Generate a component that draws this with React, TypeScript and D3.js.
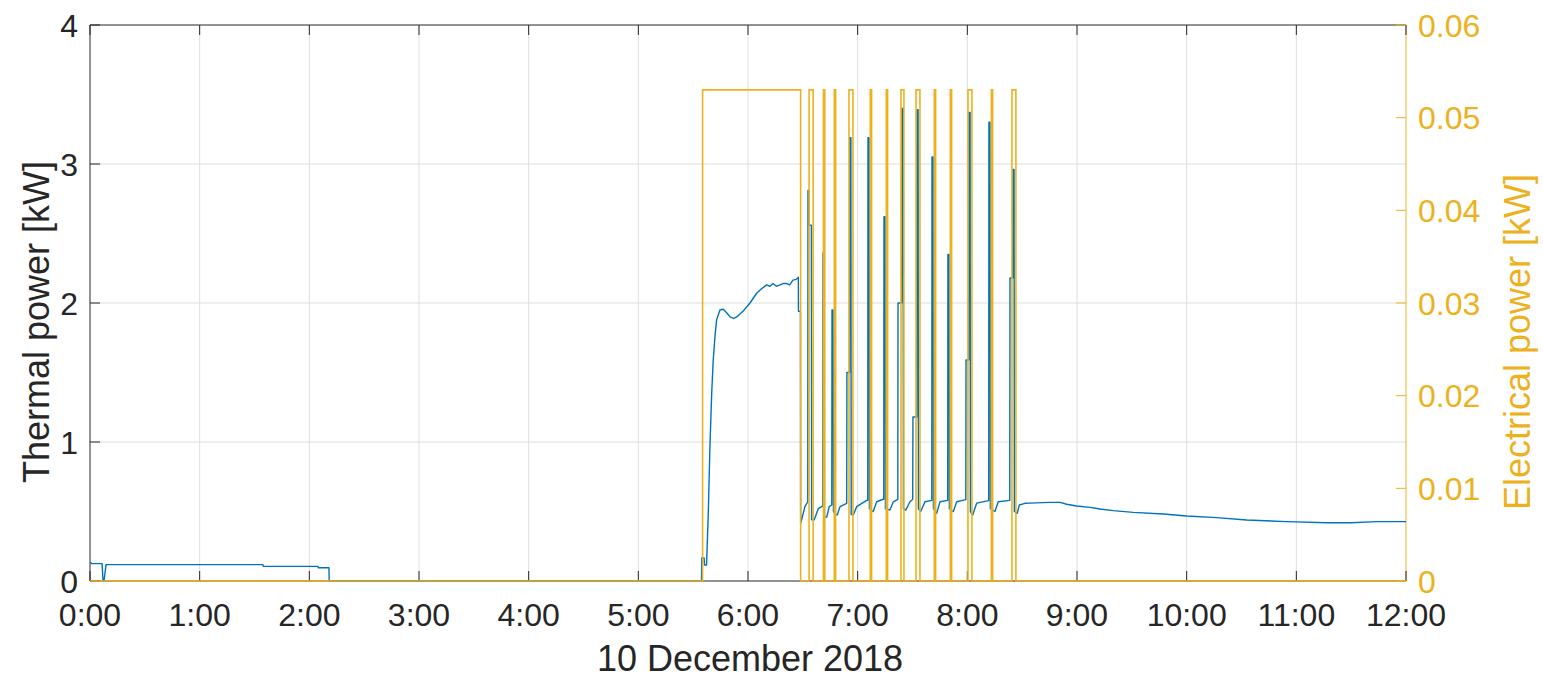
import React from 'react';
import * as d3 from 'd3';

// ---------- DATA ----------
const hourTicks = [0, 1, 2, 3, 4, 5, 6, 7, 8, 9, 10, 11, 12];
const hourLabels = ['0:00', '1:00', '2:00', '3:00', '4:00', '5:00', '6:00', '7:00', '8:00', '9:00', '10:00', '11:00', '12:00'];
const thermalTicks = [0, 1, 2, 3, 4];
const electricalTicks = [0, 0.01, 0.02, 0.03, 0.04, 0.05, 0.06];
const electricalTickLabels = ['0', '0.01', '0.02', '0.03', '0.04', '0.05', '0.06'];
const xLabel = '10 December 2018';
const leftLabel = 'Thermal power [kW]';
const rightLabel = 'Electrical power [kW]';

// Electrical pump pulses (hours since 0:00) and level (kW)
const pulseOn = [5.586, 6.557, 6.688, 6.787, 6.921, 7.115, 7.261, 7.395, 7.532, 7.699, 7.845, 8.006, 8.219, 8.407];
const pulseOff = [6.480, 6.594, 6.700, 6.799, 6.957, 7.127, 7.273, 7.422, 7.568, 7.711, 7.857, 8.042, 8.231, 8.443];
const pulseLevel = 0.053;

// Thermal power samples [hour, kW]
const thermalPoints: [number, number][] = [
  [0, 0.135], [0.018, 0.125], [0.110, 0.125], [0.119, 0], [0.128, 0], [0.146, 0.118],
  [1.577, 0.118], [1.580, 0.105], [2.079, 0.105], [2.082, 0.095], [2.179, 0.095], [2.181, 0],
  [5.576, 0], [5.578, 0.165], [5.600, 0.165], [5.603, 0.115], [5.622, 0.115], [5.638, 0.49],
  [5.653, 0.97], [5.669, 1.35], [5.683, 1.59], [5.699, 1.76], [5.714, 1.88], [5.744, 1.95],
  [5.775, 1.955], [5.805, 1.93], [5.836, 1.90], [5.870, 1.89], [5.897, 1.90], [5.954, 1.94],
  [6.018, 2.0], [6.079, 2.07], [6.120, 2.10], [6.170, 2.13], [6.200, 2.12], [6.228, 2.14],
  [6.260, 2.12], [6.292, 2.13], [6.320, 2.14], [6.353, 2.14], [6.380, 2.13], [6.410, 2.165],
  [6.440, 2.17], [6.459, 2.185], [6.460, 1.94], [6.478, 1.94], [6.480, 0.415],
  [6.489, 0.44], [6.519, 0.535], [6.545, 0.57],
  [6.547, 2.81], [6.556, 2.81], [6.558, 2.56], [6.578, 2.56], [6.580, 0.44],
  [6.604, 0.44], [6.641, 0.52], [6.672, 0.535], [6.682, 0.54],
  [6.684, 2.36], [6.694, 2.36], [6.697, 0.46],
  [6.718, 0.46], [6.741, 0.535], [6.764, 0.547],
  [6.766, 1.95], [6.776, 1.95], [6.779, 0.50],
  [6.800, 0.48], [6.814, 0.475], [6.839, 0.535], [6.900, 0.559],
  [6.902, 1.50], [6.926, 1.50], [6.928, 3.19], [6.938, 3.19], [6.941, 0.48],
  [6.960, 0.475], [6.991, 0.535], [7.082, 0.58],
  [7.092, 0.58], [7.094, 3.19], [7.104, 3.19], [7.107, 0.52],
  [7.142, 0.50], [7.173, 0.57], [7.233, 0.588],
  [7.238, 0.588], [7.240, 2.62], [7.250, 2.62], [7.253, 0.52],
  [7.294, 0.51], [7.325, 0.57], [7.366, 0.588],
  [7.368, 2.0], [7.402, 2.0], [7.404, 3.40], [7.414, 3.40], [7.417, 0.52],
  [7.438, 0.51], [7.477, 0.57], [7.502, 0.588],
  [7.504, 1.18], [7.539, 1.18], [7.541, 3.39], [7.551, 3.39], [7.554, 0.52],
  [7.574, 0.50], [7.614, 0.57], [7.676, 0.58],
  [7.678, 3.05], [7.688, 3.05], [7.691, 0.52],
  [7.720, 0.487], [7.751, 0.57], [7.821, 0.58],
  [7.823, 2.35], [7.833, 2.35], [7.836, 0.52],
  [7.872, 0.50], [7.903, 0.57], [7.986, 0.585],
  [7.988, 1.59], [8.013, 1.59], [8.015, 3.37], [8.025, 3.37], [8.028, 0.50],
  [8.049, 0.475], [8.085, 0.56], [8.195, 0.578],
  [8.197, 3.30], [8.207, 3.30], [8.210, 0.52],
  [8.252, 0.50], [8.282, 0.57], [8.387, 0.58],
  [8.389, 2.18], [8.414, 2.18], [8.416, 2.96], [8.426, 2.96], [8.429, 0.50],
  [8.455, 0.487], [8.474, 0.547], [8.526, 0.559], [8.571, 0.56], [8.753, 0.566],
  [8.845, 0.566], [8.906, 0.552], [8.997, 0.54], [9.118, 0.530], [9.209, 0.518],
  [9.331, 0.506], [9.513, 0.494], [9.787, 0.482], [10.0, 0.468], [10.273, 0.456],
  [10.547, 0.439], [10.912, 0.427], [11.276, 0.419], [11.500, 0.419], [11.732, 0.427], [12.0, 0.427],
];

// ---------- CHART ----------
const W = 1543;
const H = 678;
const left = 90;
const right = 1406;
const top = 25;
const bottom = 581;

const BLUE = '#0072BD';
const GOLD = '#EDB120';
const INK = '#262626';
const GRID = '#dedede';
const FONT = '"Liberation Sans", Arial, Helvetica, sans-serif';

export default function App() {
  const x = d3.scaleLinear().domain([0, 12]).range([left, right]);
  const yL = d3.scaleLinear().domain([0, 4]).range([bottom, top]);
  const yR = d3.scaleLinear().domain([0, 0.06]).range([bottom, top]);

  const elecPoints: [number, number][] = [[0, 0]];
  pulseOn.forEach((on, i) => {
    elecPoints.push([on, 0], [on, pulseLevel], [pulseOff[i], pulseLevel], [pulseOff[i], 0]);
  });
  elecPoints.push([12, 0]);

  const thermalLine = d3.line<[number, number]>().x((d) => x(d[0])).y((d) => yL(d[1]))(thermalPoints) || '';
  const elecLine = d3.line<[number, number]>().x((d) => x(d[0])).y((d) => yR(d[1]))(elecPoints) || '';

  const tickLen = 10;
  const fs = 32;

  return (
    <svg width={W} height={H} style={{ position: 'absolute', left: 0, top: 0, background: '#fff' }} fontFamily={FONT}>
      <defs>
        <clipPath id="plotclip">
          <rect x={left} y={top - 2} width={right - left + 2} height={bottom - top + 4} />
        </clipPath>
      </defs>
      <rect x={0} y={0} width={W} height={H} fill="#fff" />
      {/* grid */}
      {hourTicks.slice(1, -1).map((h) => (
        <line key={'gx' + h} x1={x(h)} x2={x(h)} y1={top} y2={bottom} stroke={GRID} strokeWidth={1} />
      ))}
      {thermalTicks.slice(1, -1).map((v) => (
        <line key={'gy' + v} x1={left} x2={right} y1={yL(v)} y2={yL(v)} stroke={GRID} strokeWidth={1} />
      ))}
      {/* frame */}
      <line x1={left} x2={right} y1={top} y2={top} stroke={INK} strokeWidth={1} />
      <line x1={left} x2={right} y1={bottom} y2={bottom} stroke={INK} strokeWidth={1} />
      <line x1={left} x2={left} y1={top} y2={bottom} stroke={INK} strokeWidth={1} />
      <line x1={right} x2={right} y1={top} y2={bottom} stroke={GOLD} strokeWidth={1} />
      {/* x ticks */}
      {hourTicks.map((h, i) => (
        <g key={'xt' + h}>
          <line x1={x(h)} x2={x(h)} y1={bottom} y2={bottom - tickLen} stroke={INK} />
          <line x1={x(h)} x2={x(h)} y1={top} y2={top + tickLen} stroke={INK} />
          <text x={x(h)} y={626} textAnchor="middle" fontSize={fs} fill={INK}>{hourLabels[i]}</text>
        </g>
      ))}
      {/* left ticks */}
      {thermalTicks.map((v) => (
        <g key={'yl' + v}>
          <line x1={left} x2={left + tickLen} y1={yL(v)} y2={yL(v)} stroke={INK} />
          <text x={78} y={yL(v)} dy="0.36em" textAnchor="end" fontSize={fs} fill={INK}>{v}</text>
        </g>
      ))}
      {/* right ticks */}
      {electricalTicks.map((v, i) => (
        <g key={'yr' + v}>
          <line x1={right} x2={right - tickLen} y1={yR(v)} y2={yR(v)} stroke={GOLD} />
          <text x={1418} y={yR(v)} dy="0.36em" textAnchor="start" fontSize={fs} fill={GOLD}>{electricalTickLabels[i]}</text>
        </g>
      ))}
      {/* series */}
      <g clipPath="url(#plotclip)">
        <path d={thermalLine} fill="none" stroke={BLUE} strokeWidth={1.4} strokeLinejoin="round" />
        <path d={elecLine} fill="none" stroke={GOLD} strokeWidth={1.6} strokeLinejoin="miter" />
      </g>
      {/* labels */}
      <text x={750} y={671} textAnchor="middle" fontSize={36} fill={INK}>{xLabel}</text>
      <text transform={`translate(49,322) rotate(-90)`} textAnchor="middle" fontSize={36} fill={INK}>{leftLabel}</text>
      <text transform={`translate(1530,342) rotate(-90)`} textAnchor="middle" fontSize={36} fill={GOLD}>{rightLabel}</text>
    </svg>
  );
}
